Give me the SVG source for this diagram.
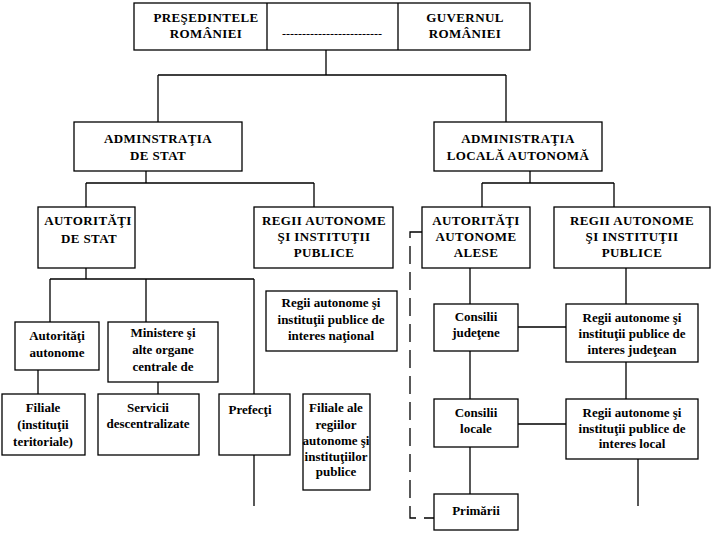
<svg xmlns="http://www.w3.org/2000/svg" width="714" height="534" viewBox="0 0 714 534">
<style>
.b{fill:#fff;stroke:#000;stroke-width:1.3}
.l{stroke:#000;stroke-width:1.3;fill:none}
.d{stroke:#000;stroke-width:1.3;fill:none;stroke-dasharray:18 8}
text{font-family:'Liberation Serif','DejaVu Serif','Times New Roman',serif;font-weight:bold;text-anchor:middle}
.h{font-size:13px;letter-spacing:0.4px}
.s{font-size:13px}
</style>
<rect width="714" height="534" fill="#fff"/>
<g id="connectors">
<path class="l" d="M326 50V75M158 75H506M158 75V122M506 75V122"/>
<path class="l" d="M146 171V183M86 183H314M86 183V207M314 183V207"/>
<path class="l" d="M530 171V183M482 183H614M482 183V207M614 183V207"/>
<path class="l" d="M86 268V279M50 279H254M50 279V322M146 279V322M254 279V394M254 455V506"/>
<path class="l" d="M38 370V394M158 382V394"/>
<path class="l" d="M470 268V304M470 351V399M470 447V494M518 327H566M518 424H566M626 268V304M626 362V399M638 459V506"/>
<path class="d" d="M422 232H410V518H434"/>
</g>
<g id="top">
<rect class="b" x="134" y="3" width="396" height="47"/>
<path class="l" d="M267 3V50M398 3V50"/>
<text class="h" x="206" y="22">PREŞEDINTELE</text>
<text class="h" x="206" y="38">ROMÂNIEI</text>
<text class="s" x="332" y="38" style="font-weight:normal;font-size:12px">-------------------------</text>
<text class="h" x="465" y="22">GUVERNUL</text>
<text class="h" x="465" y="38">ROMÂNIEI</text>
</g>
<g id="admin-stat">
<rect class="b" x="74" y="122" width="168" height="49"/>
<text class="h" x="158" y="143">ADMINSTRAŢIA</text>
<text class="h" x="158" y="160">DE STAT</text>
</g>
<g id="admin-locala">
<rect class="b" x="434" y="122" width="168" height="49"/>
<text class="h" x="518" y="143">ADMINISTRAŢIA</text>
<text class="h" x="518" y="160">LOCALĂ AUTONOMĂ</text>
</g>
<g id="autoritati-stat">
<rect class="b" x="38" y="207" width="97" height="61"/>
<text class="h" x="88" y="225">AUTORITĂŢI</text>
<text class="h" x="89" y="243">DE STAT</text>
</g>
<g id="regii-stat">
<rect class="b" x="254" y="207" width="139" height="61"/>
<text class="h" x="324" y="225">REGII AUTONOME</text>
<text class="h" x="324" y="241">ŞI INSTITUŢII</text>
<text class="h" x="324" y="257">PUBLICE</text>
</g>
<g id="autoritati-alese">
<rect class="b" x="422" y="207" width="108" height="61"/>
<text class="h" x="476" y="225">AUTORITĂŢI</text>
<text class="h" x="476" y="241">AUTONOME</text>
<text class="h" x="476" y="257">ALESE</text>
</g>
<g id="regii-locale">
<rect class="b" x="554" y="207" width="156" height="61"/>
<text class="h" x="632" y="225">REGII AUTONOME</text>
<text class="h" x="632" y="241">ŞI INSTITUŢII</text>
<text class="h" x="632" y="257">PUBLICE</text>
</g>
<g id="autoritati-autonome">
<rect class="b" x="15" y="322" width="84" height="48"/>
<text class="s" x="57" y="340">Autorităţi</text>
<text class="s" x="57" y="357">autonome</text>
</g>
<g id="ministere">
<rect class="b" x="108" y="322" width="110" height="60"/>
<text class="s" x="163" y="337">Ministere şi</text>
<text class="s" x="163" y="354">alte organe</text>
<text class="s" x="163" y="371">centrale de</text>
</g>
<g id="regii-national">
<rect class="b" x="266" y="291" width="131" height="60"/>
<text class="s" x="331" y="307">Regii autonome şi</text>
<text class="s" x="331" y="324">instituţii publice de</text>
<text class="s" x="331" y="340">interes naţional</text>
</g>
<g id="filiale">
<rect class="b" x="2" y="394" width="83" height="61"/>
<text class="s" x="43" y="412">Filiale</text>
<text class="s" x="43" y="429">(instituţii</text>
<text class="s" x="43" y="446">teritoriale)</text>
</g>
<g id="servicii">
<rect class="b" x="98" y="394" width="101" height="61"/>
<text class="s" x="148" y="412">Servicii</text>
<text class="s" x="148" y="428">descentralizate</text>
</g>
<g id="prefecti">
<rect class="b" x="219" y="394" width="71" height="61"/>
<text class="s" x="250" y="414">Prefecţi</text>
</g>
<g id="filiale-regii">
<rect class="b" x="303" y="394" width="67" height="96"/>
<text class="s" x="336" y="412">Filiale ale</text>
<text class="s" x="336" y="429">regiilor</text>
<text class="s" x="336" y="445">autonome şi</text>
<text class="s" x="336" y="461">instituţiilor</text>
<text class="s" x="336" y="476">publice</text>
</g>
<g id="consilii-judetene">
<rect class="b" x="434" y="304" width="84" height="47"/>
<text class="s" x="476" y="321">Consilii</text>
<text class="s" x="476" y="337">judeţene</text>
</g>
<g id="regii-judetean">
<rect class="b" x="566" y="304" width="132" height="58"/>
<text class="s" x="632" y="322">Regii autonome şi</text>
<text class="s" x="632" y="338">instituţii publice de</text>
<text class="s" x="632" y="354">interes judeţean</text>
</g>
<g id="consilii-locale">
<rect class="b" x="434" y="399" width="84" height="48"/>
<text class="s" x="476" y="417">Consilii</text>
<text class="s" x="476" y="433">locale</text>
</g>
<g id="regii-local">
<rect class="b" x="566" y="399" width="132" height="60"/>
<text class="s" x="632" y="417">Regii autonome şi</text>
<text class="s" x="632" y="433">instituţii publice de</text>
<text class="s" x="632" y="448">interes local</text>
</g>
<g id="primarii">
<rect class="b" x="434" y="494" width="84" height="36"/>
<text class="s" x="476" y="515">Primării</text>
</g>
</svg>
